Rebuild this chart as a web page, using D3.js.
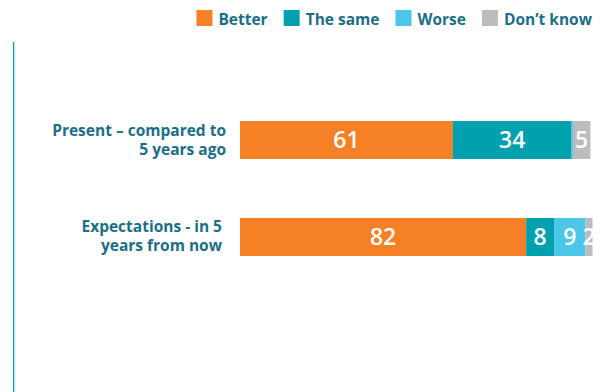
<!DOCTYPE html>
<html>
<head>
<meta charset="utf-8">
<script src="https://cdn.jsdelivr.net/npm/d3@7"></script>
<style>
  html, body { margin: 0; padding: 0; background: #ffffff; }
  svg { display: block; font-family: "Open Sans", "Noto Sans", sans-serif; }
</style>
</head>
<body>
<svg id="chart" width="601" height="392"></svg>
<script>
// ---- data ----
const categories = ["Present \u2013 compared to|5 years ago", "Expectations - in 5\u00A0|years from now\u00A0"];
const seriesNames = ["Better", "The same", "Worse", "Don\u2019t know"];
const better = [61, 82];
const theSame = [34, 8];
const worse = [0.4, 9];
const dontKnow = [5, 2];
const colors = ["#f58025", "#00a0ae", "#4cc7ea", "#bcbcbe"];

const svg = d3.select("#chart");
const W = 601, H = 392;
const textColor = "#1c6e86";

const rows = categories.map((c, i) => ({
  cat: c,
  vals: [better[i], theSame[i], worse[i], dontKnow[i]]
}));

const x = d3.scaleLinear().domain([0, 100]).range([240, 589]);
const y = d3.scaleBand().domain(categories).range([72.5, 304.5])
  .paddingInner(0.608).paddingOuter(0.5);

// left vertical rule
svg.append("line").attr("x1", 13.5).attr("x2", 13.5).attr("y1", 42).attr("y2", H)
  .attr("stroke", "#1f93a6").attr("stroke-width", 1.2);
svg.append("line").attr("x1", 14.8).attr("x2", 14.8).attr("y1", 42).attr("y2", H)
  .attr("stroke", "#b5e2ec").attr("stroke-width", 1);

// bars
rows.forEach(r => {
  const stack = [];
  let acc = 0;
  r.vals.forEach((v, k) => { stack.push({k, v, x0: acc, x1: acc + v}); acc += v; });
  const g = svg.append("g");
  g.selectAll("rect").data(stack).join("rect")
    .attr("x", d => x(d.x0))
    .attr("y", y(r.cat))
    .attr("width", d => x(d.x1) - x(d.x0))
    .attr("height", y.bandwidth())
    .attr("fill", d => colors[d.k]);
  g.selectAll("text").data(stack.filter(d => d.v >= 1)).join("text")
    .attr("x", d => (x(d.x0) + x(d.x1)) / 2)
    .attr("y", y(r.cat) + y.bandwidth() / 2 + 8)
    .attr("text-anchor", "middle")
    .attr("fill", "#ffffff")
    .attr("font-size", 23)
    .attr("font-weight", 600)
    .text(d => Math.round(d.v));
});

// category labels
rows.forEach(r => {
  const lines = r.cat.split("|");
  const cy = y(r.cat) + y.bandwidth() / 2;
  const lh = 19;
  lines.forEach((ln, i) => {
    svg.append("text")
      .attr("text-anchor", "end")
      .attr("fill", textColor)
      .attr("font-size", 15.5)
      .attr("font-weight", 700)
      .attr("x", 226)
      .attr("y", cy + (i - (lines.length - 1) / 2) * lh + 5)
      .text(ln);
  });
});

// legend
const leg = svg.append("g");
const items = seriesNames.map((n, i) => {
  const g = leg.append("g");
  g.append("rect").attr("width", 16).attr("height", 16).attr("y", 10).attr("fill", colors[i]);
  const t = g.append("text").attr("x", 22).attr("y", 24.5)
    .attr("fill", textColor).attr("font-size", 15.5).attr("font-weight", 700).text(n);
  return {g, w: 22 + t.node().getComputedTextLength()};
});
const gap = 16;
const total = d3.sum(items, d => d.w) + gap * (items.length - 1);
let lx = 592 - total;
items.forEach(it => { it.g.attr("transform", `translate(${lx},0)`); lx += it.w + gap; });
</script>
</body>
</html>
